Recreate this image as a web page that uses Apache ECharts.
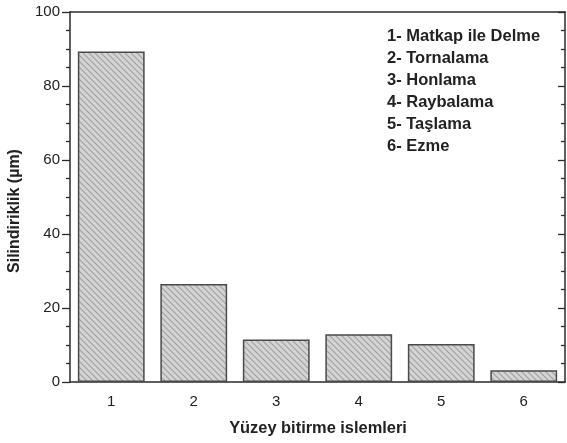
<!DOCTYPE html>
<html>
<head>
<meta charset="utf-8">
<script src="https://cdn.jsdelivr.net/npm/echarts@6/dist/echarts.min.js"></script>
<style>html,body{margin:0;padding:0;background:#fff}#c{width:567px;height:443px}</style>
</head>
<body>
<div id="c"></div>
<script>
const categories = ['1', '2', '3', '4', '5', '6'];
const values = [89.3, 26.5, 11.5, 12.9, 10.3, 3.2];
const legendLines = ['1- Matkap ile Delme', '2- Tornalama', '3- Honlama', '4- Raybalama', '5- Taşlama', '6- Ezme'];
const yTicks = [0, 20, 40, 60, 80, 100];
const xTitle = 'Yüzey bitirme islemleri';
const yTitle = 'Silindiriklik (µm)';

// hatch pattern
const pc = document.createElement('canvas');
pc.width = 6; pc.height = 6;
const g = pc.getContext('2d');
g.fillStyle = '#d4d4d4';
g.fillRect(0, 0, 6, 6);
g.strokeStyle = '#a0a0a0';
g.lineWidth = 1.1;
g.beginPath();
g.moveTo(-1, -1); g.lineTo(7, 7);
g.moveTo(-4, 2); g.lineTo(4, 10);
g.moveTo(2, -4); g.lineTo(10, 4);
g.stroke();

const chart = echarts.init(document.getElementById('c'), null, {renderer: 'canvas'});
const font = '"Liberation Sans", Arial, sans-serif';
const axisCol = '#2a2a2a';
const txtCol = '#222';
const grid = {left: 70, right: 2, top: 12, bottom: 61};

chart.setOption({
  animation: false,
  grid: grid,
  xAxis: [
    {
      type: 'category', data: categories, position: 'bottom',
      axisLine: {lineStyle: {color: axisCol, width: 1.5}},
      axisTick: {alignWithLabel: true, length: 7, inside: false, lineStyle: {color: axisCol, width: 1.3}},
      axisLabel: {color: txtCol, fontFamily: font, fontSize: 15, margin: 12},
      splitLine: {show: false}
    },
    {
      type: 'category', data: categories, position: 'bottom',
      axisLine: {show: false},
      axisTick: {length: 3, lineStyle: {color: axisCol, width: 1.3}},
      axisLabel: {show: false}, splitLine: {show: false}
    },
    {
      type: 'category', data: categories, position: 'top',
      axisLine: {lineStyle: {color: axisCol, width: 1.5}},
      axisTick: {alignWithLabel: true, inside: true, length: 5, lineStyle: {color: axisCol, width: 1.3}},
      axisLabel: {show: false}, splitLine: {show: false}
    }
  ],
  yAxis: [
    {
      type: 'value', min: 0, max: 100, interval: 20, position: 'left',
      axisLine: {show: true, lineStyle: {color: axisCol, width: 1.5}},
      axisTick: {show: true, length: 8, lineStyle: {color: axisCol, width: 1.3}},
      minorTick: {show: true, splitNumber: 4, length: 4, lineStyle: {color: axisCol, width: 1.3}},
      axisLabel: {color: txtCol, fontFamily: font, fontSize: 15, margin: 10},
      splitLine: {show: false}
    },
    {
      type: 'value', min: 0, max: 100, interval: 20, position: 'right',
      axisLine: {show: true, lineStyle: {color: axisCol, width: 1.5}},
      axisTick: {show: true, inside: true, length: 7, lineStyle: {color: axisCol, width: 1.3}},
      minorTick: {show: true, splitNumber: 4, length: 4, lineStyle: {color: axisCol, width: 1.3}},
      axisLabel: {show: false}, splitLine: {show: false}
    }
  ],
  graphic: legendLines.map((t, i) => ({
    type: 'text', x: 387, y: 36 + i * 22,
    style: {text: t, fill: txtCol, font: 'bold 16.5px ' + font, textVerticalAlign: 'middle'}
  })).concat([
    {
      type: 'text', x: 318, y: 428,
      style: {text: xTitle, fill: txtCol, font: 'bold 16.4px ' + font, textAlign: 'center', textVerticalAlign: 'middle'}
    },
    {
      type: 'text', x: 15, y: 211, rotation: Math.PI / 2,
      style: {text: yTitle, fill: txtCol, font: 'bold 16px ' + font, textAlign: 'center', textVerticalAlign: 'middle'}
    }
  ]),
  series: [{
    type: 'bar', data: values, xAxisIndex: 0, yAxisIndex: 0,
    barWidth: '81%',
    itemStyle: {color: {image: pc, repeat: 'repeat'}, borderColor: '#4a4a4a', borderWidth: 1.5}
  }]
});
</script>
</body>
</html>
